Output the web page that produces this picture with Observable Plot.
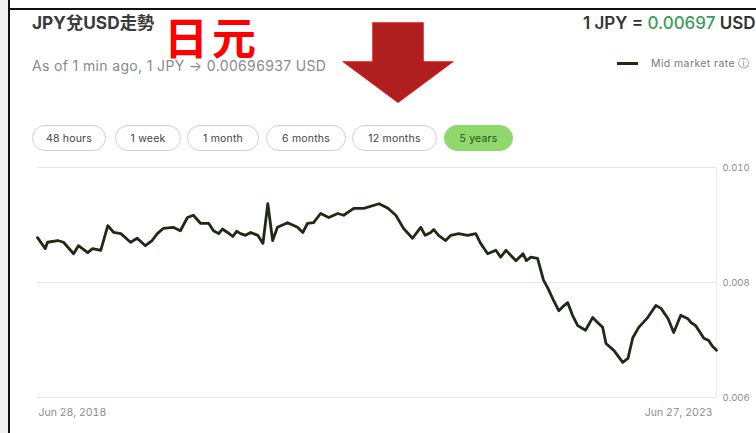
<!DOCTYPE html>
<html><head><meta charset="utf-8">
<script src="https://cdn.jsdelivr.net/npm/d3@7"></script>
<script src="https://cdn.jsdelivr.net/npm/@observablehq/plot@0.6"></script>
<style>
html,body{margin:0;padding:0;}
body{width:756px;height:433px;overflow:hidden;background:#fff;position:relative;font-family:Inter,"Noto Sans","Noto Sans CJK TC",sans-serif;}
#chart{position:absolute;left:0;top:0;}
.abs{position:absolute;white-space:nowrap;}
#leftstrip{left:0;top:0;width:8px;height:433px;background:#f1f1f1;}
#vline{left:8px;top:0;width:2px;height:433px;background:#111;}
#hline{left:8px;top:8px;width:748px;height:2px;background:#111;}
#title{left:32px;top:12px;font-size:17.3px;line-height:22px;font-weight:700;color:#3a3a3a;font-family:Inter,"Noto Sans CJK TC",sans-serif;}
#yen{left:164px;top:18px;font-size:44px;font-weight:700;color:#ff0000;font-family:"Noto Sans CJK TC",sans-serif;letter-spacing:4px;line-height:36px;height:36px;}
#sub{left:32px;top:58px;font-size:14px;line-height:16px;letter-spacing:0.35px;color:#8a8a8a;}
#rate{left:583px;top:12px;font-size:17px;font-weight:600;color:#333;line-height:22px;}
#rate span{color:#3a9d5c;font-weight:500;}
#legline{left:617px;top:62px;width:21px;height:3px;background:#1e2b14;}
#legtxt{left:651px;top:57px;font-size:10.5px;line-height:13px;letter-spacing:0.4px;color:#7a7a7a;}
#legtxt span{font-family:"DejaVu Sans",sans-serif;}
.pill{position:absolute;top:125px;height:24px;border:1px solid #cfcfcf;border-radius:13px;font-size:10.5px;letter-spacing:0.2px;color:#444;display:flex;align-items:center;justify-content:center;box-sizing:content-box;}
.pill.on{background:#8fd86c;border-color:#8fd86c;color:#2b4d1c;}
#arrow{position:absolute;left:340px;top:20px;}
</style></head>
<body>
<div id="chart"></div>
<div class="abs" id="leftstrip"></div>
<div class="abs" id="vline"></div>
<div class="abs" id="hline"></div>
<div class="abs" id="title">JPY兌USD走勢</div>
<div class="abs" id="yen">日元</div>
<div class="abs" id="sub">As of 1 min ago, 1 JPY → 0.00696937 USD</div>
<div class="abs" id="rate">1 JPY = <span>0.00697</span> USD</div>
<div class="abs" id="legline"></div>
<div class="abs" id="legtxt">Mid market rate <span>ⓘ</span></div>
<div id="pills"></div>
<svg id="arrow" width="120" height="90" viewBox="340 20 120 90">
  <polygon points="373,23 423,23 423,62 452,62 398,102 344,62 373,62" fill="#b01f1f" stroke="#d41414" stroke-width="1.5"/>
</svg>
<script>
// ---- data ----
const dates = [
"2018-06-28","2018-07-19","2018-07-25","2018-08-21","2018-09-06","2018-10-03","2018-10-16","2018-11-10","2018-11-23","2018-12-15",
"2019-01-03","2019-01-19","2019-02-07","2019-03-05","2019-03-23","2019-04-14","2019-05-02","2019-05-16","2019-06-01","2019-06-28",
"2019-07-17","2019-08-05","2019-08-21","2019-09-09","2019-10-01","2019-10-14","2019-10-28","2019-11-07","2019-11-21","2019-12-05",
"2019-12-15","2019-12-26","2020-01-08","2020-01-22","2020-02-10",
"2020-02-24","2020-03-08","2020-03-21","2020-04-03","2020-04-30","2020-05-27","2020-06-10","2020-06-23","2020-07-09","2020-07-28",
"2020-08-19","2020-09-12","2020-09-28","2020-10-25","2020-11-21","2021-01-01","2021-01-25","2021-02-15","2021-03-08","2021-04-01",
"2021-04-23","2021-05-05","2021-05-20","2021-05-28","2021-06-10","2021-06-29","2021-07-13","2021-08-03","2021-08-27","2021-09-18","2021-10-01","2021-10-20",
"2021-11-11","2021-11-24","2021-12-08","2022-01-04","2022-01-23","2022-02-01","2022-02-13","2022-03-03","2022-03-19","2022-03-30","2022-04-15",
"2022-04-29","2022-05-10","2022-05-23","2022-06-05","2022-06-19","2022-07-10","2022-07-29","2022-08-12","2022-08-25","2022-09-03","2022-09-24","2022-10-18",
"2022-11-01","2022-11-14","2022-11-30","2022-12-24","2023-01-15","2023-01-29","2023-02-17","2023-03-04","2023-03-23","2023-04-11",
"2023-04-20","2023-05-02","2023-05-24","2023-06-06","2023-06-15","2023-06-27"];
const rates = [
0.00878,0.00859,0.00870,0.00873,0.00870,0.00850,0.00864,0.00852,0.00859,0.00856,
0.00899,0.00887,0.00885,0.00870,0.00877,0.00864,0.00873,0.00885,0.00894,0.00896,
0.00890,0.00913,0.00917,0.00903,0.00903,0.00890,0.00885,0.00893,0.00887,0.00880,
0.00889,0.00885,0.00882,0.00887,0.00882,
0.00868,0.00937,0.00873,0.00896,0.00904,0.00896,0.00887,0.00903,0.00904,0.00920,
0.00913,0.00920,0.00917,0.00929,0.00929,0.00937,0.00929,0.00917,0.00894,0.00877,
0.00896,0.00882,0.00887,0.00892,0.00882,0.00873,0.00882,0.00885,0.00882,0.00885,0.00868,0.00850,
0.00856,0.00844,0.00856,0.00838,0.00850,0.00838,0.00844,0.00842,0.00804,0.00791,0.00769,
0.00751,0.00758,0.00765,0.00743,0.00725,0.00717,0.00739,0.00730,0.00722,0.00694,0.00682,0.00661,
0.00668,0.00704,0.00722,0.00739,0.00760,0.00755,0.00737,0.00713,0.00743,0.00737,
0.00730,0.00725,0.00703,0.00699,0.00690,0.00682];
const yTicks = [0.006, 0.008, 0.010];
const xTickDates = ["2018-06-28", "2023-06-27"];
const xTickLabels = ["Jun 28, 2018", "Jun 27, 2023"];
const ranges = ["48 hours","1 week","1 month","6 months","12 months","5 years"];
const selectedRange = "5 years";

// ---- pills ----
const pillPos = [[32,72],[115,64],[187,70],[266,78],[352,83],[444,67]];
const pillsEl = document.getElementById("pills");
ranges.forEach((r,i)=>{
  const d = document.createElement("div");
  d.className = "pill" + (r===selectedRange ? " on" : "");
  d.style.left = pillPos[i][0]+"px";
  d.style.width = pillPos[i][1]+"px";
  d.textContent = r;
  pillsEl.appendChild(d);
});

// ---- chart ----
const parse = d3.utcParse("%Y-%m-%d");
const data = dates.map((d,i)=>({date: parse(d), rate: rates[i]}));
const tickD = xTickDates.map(parse);
const lastDate = parse(dates[dates.length-1]);

const chart = Plot.plot({
  width: 756,
  height: 433,
  marginTop: 167,
  marginBottom: 36,
  marginLeft: 37,
  marginRight: 40,
  style: {background: "transparent", fontFamily: "Inter, 'Noto Sans', sans-serif"},
  x: {type: "utc", domain: [parse(dates[0]), lastDate]},
  y: {domain: [0.006, 0.010]},
  marks: [
    Plot.gridY(yTicks, {stroke: "#e6e6e6", strokeOpacity: 1}),
    Plot.ruleX([lastDate], {y1: 0.010, y2: 0.006, stroke: "#ececec"}),
    Plot.line(data, {x: "date", y: "rate", stroke: "#1e2b14", strokeWidth: 2.8, strokeLinejoin: "round", strokeLinecap: "round"}),
    Plot.axisY(yTicks, {anchor: "right", tickSize: 0, tickPadding: 6, tickFormat: d3.format(".3f"), fill: "#8c8c8c", fontSize: 9.5, label: null}),
    Plot.axisX([tickD[0]], {anchor: "bottom", tickSize: 0, tickPadding: 11, textAnchor: "start", dx: 1, tickFormat: () => xTickLabels[0], fill: "#8c8c8c", fontSize: 10.5, label: null}),
    Plot.axisX([tickD[1]], {anchor: "bottom", tickSize: 0, tickPadding: 11, textAnchor: "end", dx: -4, tickFormat: () => xTickLabels[1], fill: "#8c8c8c", fontSize: 10.5, label: null})
  ]
});
document.getElementById("chart").appendChild(chart);
</script>
</body></html>
